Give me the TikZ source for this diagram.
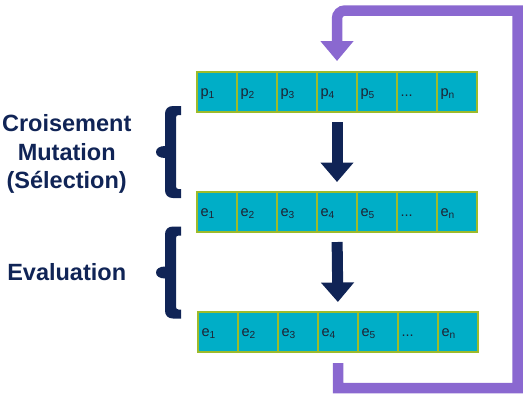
\documentclass[tikz,border=0pt]{standalone}
\usepackage{fontspec}
\setmainfont{Liberation Sans}
\usepackage{tikz}
\usetikzlibrary{positioning,arrows.meta}
\definecolor{marine}{HTML}{102456}
\definecolor{cyancase}{HTML}{00AEC7}
\definecolor{bordcase}{HTML}{9DBB2B}
\definecolor{violetboucle}{HTML}{8A68D0}
\definecolor{textecase}{HTML}{1E2233}
\newcommand{\pk}[1]{p\textsubscript{#1}}
\newcommand{\ek}[1]{e\textsubscript{#1}}
\newcommand{\accolade}{(181,106) -- (173,106) .. controls (168,106) and (165,109) .. (165,114)
  -- (165,146) .. controls (159.5,146) and (156,148.5) .. (156,152)
  .. controls (156,155.5) and (159.5,158) .. (165,158)
  -- (165,190) .. controls (165,195) and (168,198) .. (173,198) -- (181,198) -- (181,189)
  -- (178.5,189) .. controls (177,189) and (176,188) .. (176,186.5) -- (176,117.5)
  .. controls (176,116) and (177,115) .. (178.5,115) -- (181,115) -- cycle}

\begin{document}
\begin{tikzpicture}[x=1pt,y=-1pt,
  case/.style={draw=bordcase,line width=1.4pt,fill=cyancase,outer sep=0pt,
    minimum height=40pt,text width=33pt,inner xsep=3.5pt,align=left,
    text height=10pt,text depth=2pt,text=textecase,font=\fontsize{14.5}{16}\selectfont},
  titre/.style={text=marine,align=center,inner sep=0pt,
    font=\bfseries\fontsize{23.5}{28.5}\selectfont},
  fleche/.style={draw=marine,line width=11pt,shorten <=10pt,shorten >=10pt,
    -{Triangle[width=32pt,length=19.5pt]}},
  boucle/.style={draw=violetboucle,line width=10.5pt,shorten <=11pt,shorten >=11pt,
    -{Triangle[width=32pt,length=20pt]}}]
\useasboundingbox (0,0) rectangle (529,400);
% population
\node[case] (p1) at (217,92) {\pk1};
\node[case,right=0pt of p1] (p2) {\pk2};
\node[case,right=0pt of p2] (p3) {\pk3};
\node[case,right=0pt of p3] (p4) {\pk4};
\node[case,right=0pt of p4] (p5) {\pk5};
\node[case,right=0pt of p5] (p6) {...};
\node[case,right=0pt of p6] (p7) {\pk{n}};
% enfants
\node[case] (e1) at (217,212) {\ek1};
\node[case,right=0pt of e1] (e2) {\ek2};
\node[case,right=0pt of e2] (e3) {\ek3};
\node[case,right=0pt of e3] (e4) {\ek4};
\node[case,right=0pt of e4] (e5) {\ek5};
\node[case,right=0pt of e5] (e6) {...};
\node[case,right=0pt of e6] (e7) {\ek{n}};
% evalues
\node[case] (v1) at (218,332) {\ek1};
\node[case,right=0pt of v1] (v2) {\ek2};
\node[case,right=0pt of v2] (v3) {\ek3};
\node[case,right=0pt of v3] (v4) {\ek4};
\node[case,right=0pt of v4] (v5) {\ek5};
\node[case,right=0pt of v5] (v6) {...};
\node[case,right=0pt of v6] (v7) {\ek{n}};

\node[titre] (operateurs) at (66.7,154) {Croisement\\Mutation\\(Sélection)};
\node[titre,anchor=base] (evaluation) at (66.7,280) {Evaluation};

% accolades
\fill[marine] \accolade;
\fill[marine,shift={(0,120.5)}] \accolade;

\draw[fleche] (p4.south) -- (e4.north);
\draw[fleche] (e4.south) -- (v4.north);

\coordinate (coinbas) at (517.5,388);
\coordinate (coinhaut) at (517.5,10.5);
\draw[boucle] (v4.south) |- (coinbas) -- (coinhaut) -- ++(-90,0)
  [rounded corners=8pt] -| (p4.north);
\end{tikzpicture}
\end{document}
